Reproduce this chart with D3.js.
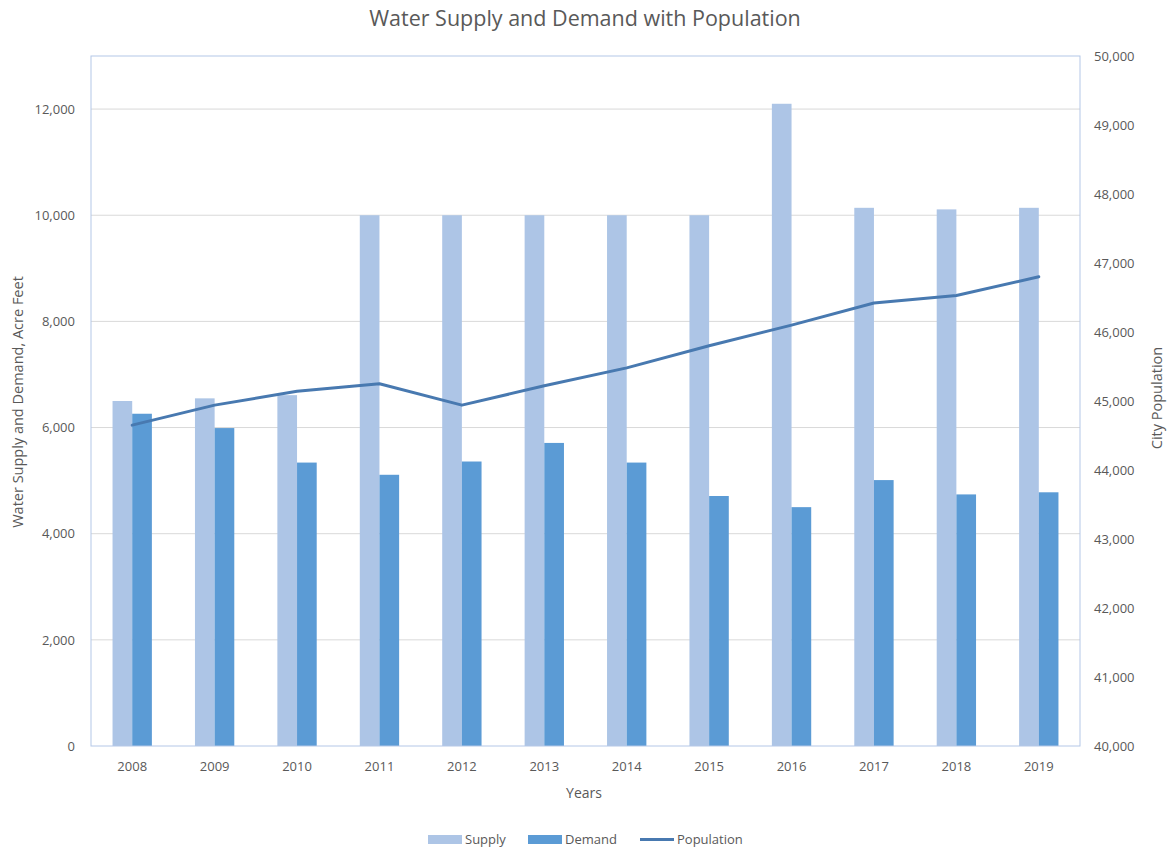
<!DOCTYPE html>
<html><head><meta charset="utf-8">
<script src="https://cdn.jsdelivr.net/npm/d3@7"></script>
<style>body{margin:0;background:#fff;} svg{display:block;font-family:"Open Sans",sans-serif;}</style>
</head><body>
<svg id="c" width="1167" height="850"></svg>
<script>
const years = ["2008","2009","2010","2011","2012","2013","2014","2015","2016","2017","2018","2019"];
const supply = [6500,6550,6610,10000,10000,10000,10000,10000,12100,10140,10110,10140];
const demand = [6260,5990,5340,5110,5360,5710,5340,4710,4500,5010,4740,4780];
const population = [44650,44940,45140,45250,44940,45220,45480,45800,46100,46420,46530,46800];
const leftTicks = [0,2000,4000,6000,8000,10000,12000];
const rightTicks = [40000,41000,42000,43000,44000,45000,46000,47000,48000,49000,50000];

const svg = d3.select("#c");
const L=91, R=1080, T=56, B=746;
const x = d3.scaleBand().domain(years).range([L,R]);
const yL = d3.scaleLinear().domain([0,13000]).range([B,T]);
const yR = d3.scaleLinear().domain([40000,50000]).range([B,T]);
const txt = "#595959";

// gridlines
svg.append("g").selectAll("line").data(leftTicks.slice(1)).join("line")
  .attr("x1",L).attr("x2",R).attr("y1",d=>yL(d)).attr("y2",d=>yL(d))
  .attr("stroke","#d9d9d9").attr("stroke-width",1);

// bars
const bw = x.bandwidth()/(2+2.19);
const g = svg.append("g");
g.selectAll(".s").data(years).join("rect")
  .attr("x",(d)=>x(d)+x.bandwidth()/2-bw).attr("width",bw)
  .attr("y",(d,i)=>yL(supply[i])).attr("height",(d,i)=>B-yL(supply[i]))
  .attr("fill","#adc5e6");
g.selectAll(".d").data(years).join("rect")
  .attr("x",(d)=>x(d)+x.bandwidth()/2).attr("width",bw)
  .attr("y",(d,i)=>yL(demand[i])).attr("height",(d,i)=>B-yL(demand[i]))
  .attr("fill","#5b9bd5");

// frame
svg.append("rect").attr("x",L).attr("y",T).attr("width",R-L).attr("height",B-T)
  .attr("fill","none").attr("stroke","#b4c7e7").attr("stroke-width",1);

// line
const line = d3.line().x((d,i)=>x(years[i])+x.bandwidth()/2).y(d=>yR(d));
svg.append("path").datum(population).attr("d",line)
  .attr("fill","none").attr("stroke","#4879b0").attr("stroke-width",3).attr("stroke-linejoin","round").attr("stroke-linecap","round");

// axes
const fmt = d3.format(",");
const axL = svg.append("g").attr("transform",`translate(${L},0)`)
  .call(d3.axisLeft(yL).tickValues(leftTicks).tickFormat(fmt).tickSize(0).tickPadding(16));
const axR = svg.append("g").attr("transform",`translate(${R},0)`)
  .call(d3.axisRight(yR).tickValues(rightTicks).tickFormat(fmt).tickSize(0).tickPadding(14));
const axB = svg.append("g").attr("transform",`translate(0,${B})`)
  .call(d3.axisBottom(x).tickSize(0).tickPadding(16));
[axL,axR,axB].forEach(a=>{
  a.select(".domain").remove();
  a.selectAll("text").attr("fill",txt).style("font-size","13px").style("font-family","'Open Sans',sans-serif");
});

// titles
svg.append("text").attr("x",585).attr("y",26).attr("text-anchor","middle")
  .attr("fill",txt).style("font-size","21.5px").text("Water Supply and Demand with Population");
svg.append("text").attr("transform","translate(23,402) rotate(-90)").attr("text-anchor","middle")
  .attr("fill",txt).style("font-size","14.5px").text("Water Supply and Demand, Acre Feet");
svg.append("text").attr("transform","translate(1162,398) rotate(-90)").attr("text-anchor","middle")
  .attr("fill",txt).style("font-size","14.5px").text("City Population");
svg.append("text").attr("x",584).attr("y",798).attr("text-anchor","middle")
  .attr("fill",txt).style("font-size","14px").text("Years");

// legend
const leg = [
  {name:"Supply", type:"rect", color:"#adc5e6", x:428},
  {name:"Demand", type:"rect", color:"#5b9bd5", x:528},
  {name:"Population", type:"line", color:"#4879b0", x:640}
];
const lg = svg.append("g");
leg.forEach(l=>{
  if(l.type==="rect") lg.append("rect").attr("x",l.x).attr("y",835).attr("width",34).attr("height",9).attr("fill",l.color);
  else lg.append("line").attr("x1",l.x).attr("x2",l.x+34).attr("y1",839.5).attr("y2",839.5).attr("stroke",l.color).attr("stroke-width",3);
  lg.append("text").attr("x",l.x+37).attr("y",844).attr("fill",txt).style("font-size","13px").text(l.name);
});
</script>
</body></html>
